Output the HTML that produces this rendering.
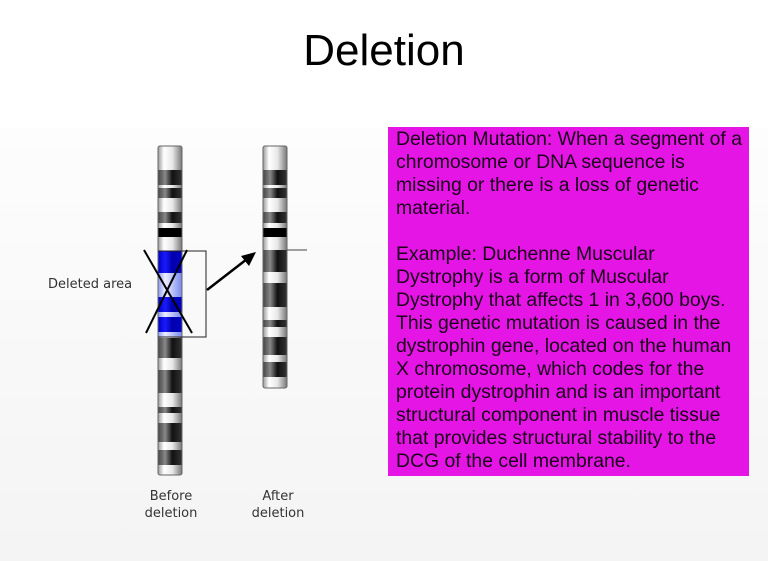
<!DOCTYPE html>
<html><head><style>
body{margin:0;width:768px;height:561px;overflow:hidden;background:#fff;font-family:"Liberation Sans",sans-serif;}
.bg{position:absolute;left:0;top:128px;width:768px;height:433px;background:linear-gradient(#fdfdfd,#f4f4f4);}
h1{position:absolute;left:0;width:768px;top:26px;margin:0;text-align:center;font-weight:normal;font-size:44px;color:#000;}
.box{position:absolute;left:388px;top:127px;width:361px;height:349px;background:#e515e5;}
.t{position:absolute;left:396px;font-size:19.4px;line-height:23px;color:#1a001a;white-space:nowrap;}
</style></head><body>
<div class="bg"></div>
<h1>Deletion</h1>
<svg width="768" height="561" style="position:absolute;left:0;top:0">
<defs>
<linearGradient id="w" x1="0" x2="1"><stop offset="0" stop-color="#999"/><stop offset=".25" stop-color="#fff"/><stop offset=".6" stop-color="#e8e8e8"/><stop offset="1" stop-color="#777"/></linearGradient>
<linearGradient id="d" x1="0" x2="1"><stop offset="0" stop-color="#444"/><stop offset=".3" stop-color="#888"/><stop offset=".6" stop-color="#111"/><stop offset="1" stop-color="#333"/></linearGradient>
<linearGradient id="b" x1="0" x2="1"><stop offset="0" stop-color="#0000c0"/><stop offset=".3" stop-color="#1a1aff"/><stop offset=".6" stop-color="#0000aa"/><stop offset="1" stop-color="#0000c8"/></linearGradient>
<linearGradient id="lb" x1="0" x2="1"><stop offset="0" stop-color="#8899ee"/><stop offset=".3" stop-color="#eef"/><stop offset="1" stop-color="#7788ee"/></linearGradient>
</defs>
<g stroke="none">
<rect x="158" y="146" width="24" height="329" fill="url(#w)" rx="2"/>
<rect x="158" y="170" width="24" height="15" fill="url(#d)"/>
<rect x="158" y="188" width="24" height="10" fill="url(#d)"/>
<rect x="158" y="212" width="24" height="11" fill="url(#d)"/>
<rect x="158" y="228" width="24" height="9" fill="#000"/>
<rect x="158" y="251" width="24" height="86" fill="url(#lb)"/>
<rect x="158" y="251" width="24" height="22" fill="url(#b)"/>
<rect x="158" y="297" width="24" height="15" fill="url(#b)"/>
<rect x="158" y="317" width="24" height="15" fill="url(#b)"/>
<rect x="158" y="338" width="24" height="20" fill="url(#d)"/>
<rect x="158" y="370" width="24" height="23" fill="url(#d)"/>
<rect x="158" y="407" width="24" height="6" fill="url(#d)"/>
<rect x="158" y="423" width="24" height="19" fill="url(#d)"/>
<rect x="158" y="450" width="24" height="15" fill="url(#d)"/>
<rect x="263" y="146" width="24" height="242" fill="url(#w)" rx="2"/>
<rect x="263" y="170" width="24" height="15" fill="url(#d)"/>
<rect x="263" y="188" width="24" height="10" fill="url(#d)"/>
<rect x="263" y="212" width="24" height="11" fill="url(#d)"/>
<rect x="263" y="228" width="24" height="9" fill="#000"/>
<rect x="263" y="250" width="24" height="22" fill="url(#d)"/>
<rect x="263" y="283" width="24" height="24" fill="url(#d)"/>
<rect x="263" y="320" width="24" height="7" fill="url(#d)"/>
<rect x="263" y="337" width="24" height="18" fill="url(#d)"/>
<rect x="263" y="362" width="24" height="15" fill="url(#d)"/>
</g>
<rect x="158" y="146" width="24" height="329" fill="none" stroke="#666" rx="2"/>
<rect x="263" y="146" width="24" height="242" fill="none" stroke="#666" rx="2"/>
<path d="M158 251H206V337H158" fill="none" stroke="#222" stroke-width="1"/>
<line x1="144" y1="250" x2="192" y2="333" stroke="#000" stroke-width="2"/>
<line x1="187" y1="250" x2="146" y2="333" stroke="#000" stroke-width="2"/>
<line x1="287" y1="250" x2="307" y2="250" stroke="#444"/>
<line x1="207" y1="290" x2="247" y2="259" stroke="#000" stroke-width="2.5"/>
<polygon points="256,252 241,256 249,266" fill="#000"/>
<g font-family="DejaVu Sans,sans-serif" font-size="13" fill="#333">
<text x="48" y="288">Deleted area</text>
<text x="171" y="500" text-anchor="middle">Before</text>
<text x="171" y="517" text-anchor="middle">deletion</text>
<text x="278" y="500" text-anchor="middle">After</text>
<text x="278" y="517" text-anchor="middle">deletion</text>
</g>
</svg>
<div class="box"></div>
<div class="t" style="top:128px">Deletion Mutation: When a segment of a</div>
<div class="t" style="top:151px">chromosome or DNA sequence is</div>
<div class="t" style="top:174px">missing or there is a loss of genetic</div>
<div class="t" style="top:197px">material.</div>
<div class="t" style="top:243px">Example: Duchenne Muscular</div>
<div class="t" style="top:266px">Dystrophy is a form of Muscular</div>
<div class="t" style="top:289px">Dystrophy that affects 1 in 3,600 boys.</div>
<div class="t" style="top:312px">This genetic mutation is caused in the</div>
<div class="t" style="top:335px">dystrophin gene, located on the human</div>
<div class="t" style="top:358px">X chromosome, which codes for the</div>
<div class="t" style="top:381px">protein dystrophin and is an important</div>
<div class="t" style="top:404px">structural component in muscle tissue</div>
<div class="t" style="top:427px">that provides structural stability to the</div>
<div class="t" style="top:450px">DCG of the cell membrane.</div>
</body></html>
